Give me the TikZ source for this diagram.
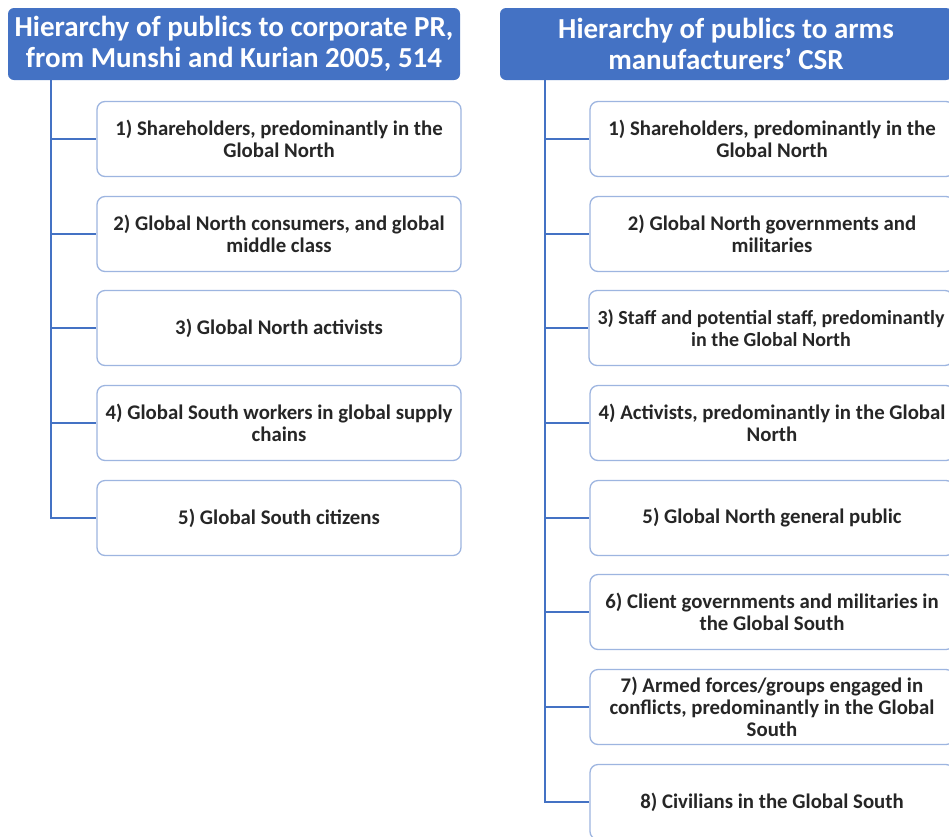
\documentclass[tikz,border=0pt]{standalone}
\usepackage{fontspec}
\setmainfont{Carlito}
\definecolor{hdrblue}{HTML}{4472C4}
\definecolor{boxline}{HTML}{9DB5E0}
\definecolor{txt}{HTML}{262626}
\begin{document}
\begin{tikzpicture}[x=1pt,y=-1pt,
  hdr/.style={fill=hdrblue,draw=none,rounded corners=6pt,minimum width=452pt,minimum height=72pt,
    text=white,font=\fontsize{29}{31}\selectfont\bfseries,align=center,inner sep=0pt},
  itembox/.style={draw=boxline,line width=1.3pt,fill=white,rounded corners=8pt,minimum width=364pt,
    minimum height=75pt,text=txt,font=\fontsize{20.8}{22}\selectfont\bfseries,align=center,inner sep=0pt},
  conn/.style={draw=hdrblue,line width=1.4pt}]
\useasboundingbox (0,0) rectangle (949,836);
\fill[white] (0,0) rectangle (949,836);
% left column
\node[hdr] (hL) at (234,44) {Hierarchy of publics to corporate PR,\\from Munshi and Kurian 2005, 514};
\coordinate (tL) at (51,80);
\node[itembox] (l1) at (279,139) {1) Shareholders, predominantly in the\\Global North};
\node[itembox] (l2) at (279,234) {2) Global North consumers, and global\\middle class};
\node[itembox] (l3) at (279,328) {3) Global North activists};
\node[itembox] (l4) at (279,423) {4) Global South workers in global supply\\chains};
\node[itembox] (l5) at (279,518) {5) Global South citizens};
\draw[conn] (tL) |- (l5.west);
\foreach \n in {l1,l2,l3,l4}{\draw[conn] (tL |- \n.west) -- (\n.west);}
% right column
\node[hdr] (hR) at (726,44) {Hierarchy of publics to arms\\manufacturers’ CSR};
\coordinate (tR) at (545,80);
\node[itembox] (r1) at (772,139) {1) Shareholders, predominantly in the\\Global North};
\node[itembox] (r2) at (772,234) {2) Global North governments and\\militaries};
\node[itembox,font=\fontsize{20}{22}\selectfont\bfseries] (r3) at (771,328) {3) Staff and potential staff, predominantly\\in the Global North};
\node[itembox] (r4) at (772,423) {4) Activists, predominantly in the Global\\North};
\node[itembox] (r5) at (772,518) {5) Global North general public};
\node[itembox] (r6) at (772,612) {6) Client governments and militaries in\\the Global South};
\node[itembox] (r7) at (772,707) {7) Armed forces/groups engaged in\\conflicts, predominantly in the Global\\South};
\node[itembox] (r8) at (772,802) {8) Civilians in the Global South};
\draw[conn] (tR) |- (r8.west);
\foreach \n in {r1,r2,r3,r4,r5,r6,r7}{\draw[conn] (tR |- \n.west) -- (\n.west);}
\end{tikzpicture}
\end{document}
